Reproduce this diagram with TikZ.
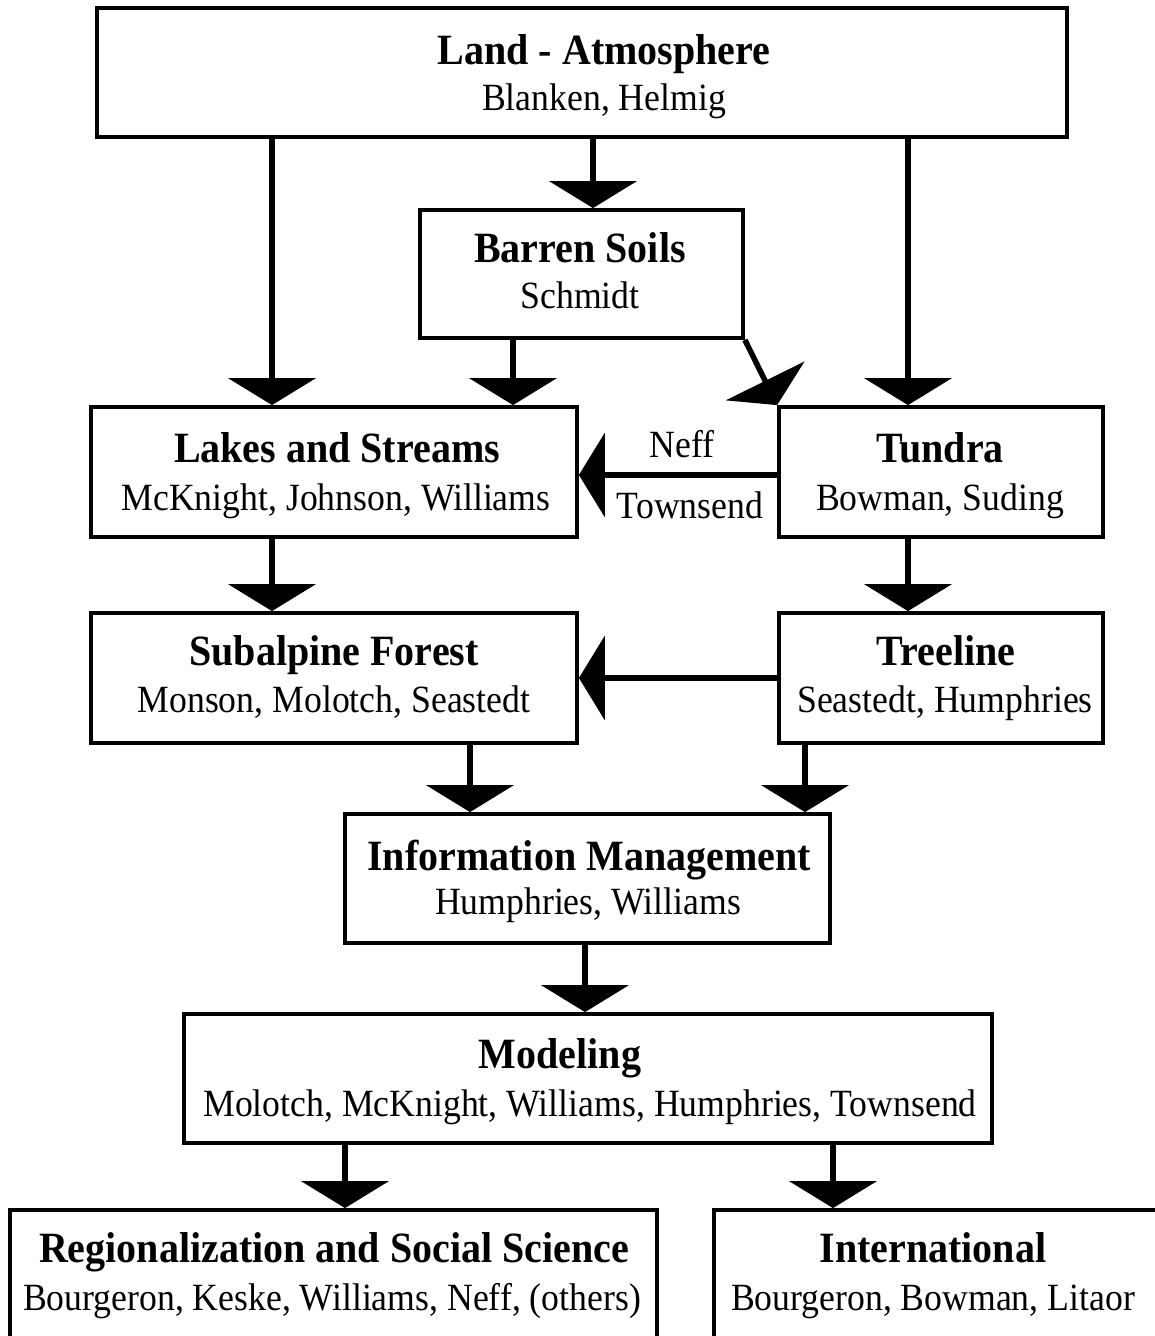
\documentclass[tikz,border=0pt]{standalone}
\usepackage{fontspec}
\usepackage{graphicx}
\setmainfont{Liberation Serif}
\usetikzlibrary{arrows.meta}
\newcommand\vstr[1]{\scalebox{1}[1.08]{#1}}
\begin{document}
\begin{tikzpicture}[x=1pt,y=-1pt,
  box/.style={draw=black, line width=3.8pt, inner sep=0pt, fill=white},
  ttl/.style={font=\fontsize{40}{40}\selectfont\bfseries, anchor=base, inner sep=0pt},
  sub/.style={font=\fontsize{35.7}{36}\selectfont, anchor=base, inner sep=0pt},
  arr/.style={line width=5.5pt, -{Triangle[width=87pt,length=27pt]}},
  arrl/.style={line width=5.5pt, -{Triangle[width=84pt,length=26pt]}}]
\fill[white] (0,0) rectangle (1154,1336);
\useasboundingbox (0,0) rectangle (1154,1336);
% boxes
\node[box, minimum width=970pt, minimum height=129pt] (land) at (582,72.5) {};
\node[box, minimum width=323pt, minimum height=128pt] (barren) at (581.5,274) {};
\node[box, minimum width=486pt, minimum height=130pt] (lakes) at (334,472) {};
\node[box, minimum width=324pt, minimum height=130pt] (tundra) at (941,472) {};
\node[box, minimum width=486pt, minimum height=130pt] (sub) at (334,678) {};
\node[box, minimum width=324pt, minimum height=130pt] (tree) at (941,678) {};
\node[box, minimum width=485pt, minimum height=129pt] (info) at (587.5,878.5) {};
\node[box, minimum width=808pt, minimum height=129pt] (model) at (588,1078.5) {};
\node[box, minimum width=647pt, minimum height=140pt] (reg) at (333.5,1280) {};
\node[box, minimum width=456pt, minimum height=140pt] (intl) at (942,1280) {};
% texts
\node[ttl] (landT) at (604,64) {\vstr{Land - Atmosphere}};
\node[sub] (landS) at (604,110) {\vstr{Blanken, Helmig}};
\node[ttl] (barrenT) at (580,262) {\vstr{Barren Soils}};
\node[sub] (barrenS) at (580,308) {\vstr{Schmidt}};
\node[ttl] (lakesT) at (337,462) {\vstr{Lakes and Streams}};
\node[sub] (lakesS) at (336,510) {\vstr{McKnight, Johnson, Williams}};
\node[ttl] (tundraT) at (940,462) {\vstr{Tundra}};
\node[sub] (tundraS) at (940,510) {\vstr{Bowman, Suding}};
\node[ttl] (subT) at (334,665) {\vstr{Subalpine Forest}};
\node[sub] (subS) at (334,712) {\vstr{Monson, Molotch, Seastedt}};
\node[ttl] (treeT) at (946,665) {\vstr{Treeline}};
\node[sub] (treeS) at (945,712) {\vstr{Seastedt, Humphries}};
\node[ttl] (infoT) at (589,870) {\vstr{Information Management}};
\node[sub] (infoS) at (588,914) {\vstr{Humphries, Williams}};
\node[ttl] (modelT) at (560,1068) {\vstr{Modeling}};
\node[sub] (modelS) at (590,1116) {\vstr{Molotch, McKnight, Williams, Humphries, Townsend}};
\node[ttl] (regT) at (334,1262) {\vstr{Regionalization and Social Science}};
\node[sub] (regS) at (332,1310) {\vstr{Bourgeron, Keske, Williams, Neff, (others)}};
\node[ttl] (intlT) at (933,1262) {\vstr{International}};
\node[sub] (intlS) at (933,1310) {\vstr{Bourgeron, Bowman, Litaor}};
\node[sub] (neff) at (682,457) {\vstr{Neff}};
\node[sub] (towns) at (690,518) {\vstr{Townsend}};
% x positions of vertical connectors
\coordinate (xa) at (272,0);
\coordinate (xb) at (593,0);
\coordinate (xc) at (908,0);
\coordinate (xd) at (513,0);
\coordinate (xe) at (470,0);
\coordinate (xf) at (805,0);
\coordinate (xg) at (585,0);
\coordinate (xh) at (345,0);
\coordinate (xi) at (833,0);
\coordinate (ya) at (0,475);
\coordinate (yb) at (0,678);
% connectors
\draw[arr] (land.south -| xa) -- (lakes.north -| xa);
\draw[arr] (land.south -| xb) -- (barren.north -| xb);
\draw[arr] (land.south -| xc) -- (tundra.north -| xc);
\draw[arr] (barren.south -| xd) -- (lakes.north -| xd);
\draw[arr] (barren.south east) -- (tundra.north west);
\draw[arrl] (tundra.west |- ya) -- (lakes.east |- ya);
\draw[arr] (lakes.south -| xa) -- (sub.north -| xa);
\draw[arr] (tundra.south -| xc) -- (tree.north -| xc);
\draw[arrl] (tree.west |- yb) -- (sub.east |- yb);
\draw[arr] (sub.south -| xe) -- (info.north -| xe);
\draw[arr] (tree.south -| xf) -- (info.north -| xf);
\draw[arr] (info.south -| xg) -- (model.north -| xg);
\draw[arr] (model.south -| xh) -- (reg.north -| xh);
\draw[arr] (model.south -| xi) -- (intl.north -| xi);
\end{tikzpicture}
\end{document}
